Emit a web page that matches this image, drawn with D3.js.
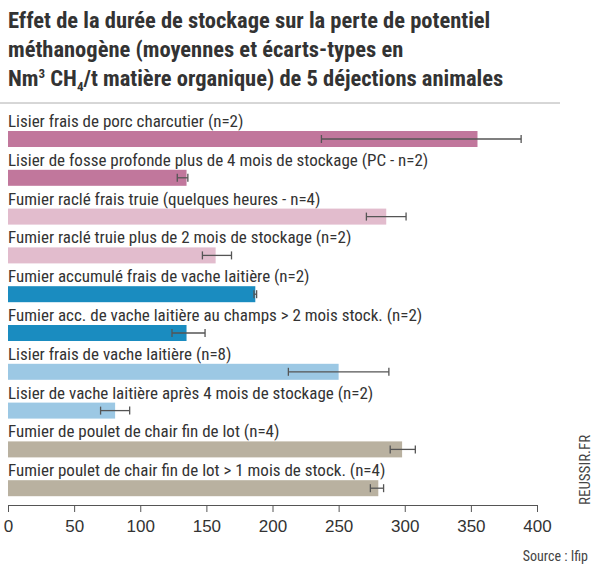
<!DOCTYPE html><html><head><meta charset="utf-8">
<script src="https://cdn.jsdelivr.net/npm/d3@7"></script>
<style>body{margin:0;background:#fff}text{font-family:"Liberation Sans Narrow","Roboto Condensed","Liberation Sans",sans-serif}</style></head><body>
<svg id="c" width="612" height="576"></svg>
<script>
const labels=["Lisier frais de porc charcutier (n=2)","Lisier de fosse profonde plus de 4 mois de stockage (PC - n=2)","Fumier raclé frais truie (quelques heures - n=4)","Fumier raclé truie plus de 2 mois de stockage (n=2)","Fumier accumulé frais de vache laitière (n=2)","Fumier acc. de vache laitière au champs > 2 mois stock. (n=2)","Lisier frais de vache laitière (n=8)","Lisier de vache laitière après 4 mois de stockage (n=2)","Fumier de poulet de chair fin de lot (n=4)","Fumier poulet de chair fin de lot > 1 mois de stock. (n=4)"];
const values=[355,135,286,157,187,135,250,81,298,280];
const errLow=[237,128,271,147,186,124,212,70,289,274];
const errHigh=[388,136,301,169,188,149,288,92,308,284];
const colors=["#c1779c","#c1779c","#e2bccd","#e2bccd","#1a8cc0","#1a8cc0","#9cc8e4","#9cc8e4","#b9b1a0","#b9b1a0"];
const ticks=[0,50,100,150,200,250,300,350,400];
const svg=d3.select("#c");
const x=d3.scaleLinear().domain([0,400]).range([8,537]);
const y=d3.scaleBand().domain(d3.range(10)).range([116,504]).paddingInner(0);
const t=svg.append("text").attr("x",8).attr("font-size",22.5).attr("font-weight","bold").attr("fill","#333");
t.append("tspan").attr("x",8).attr("y",28).text("Effet de la durée de stockage sur la perte de potentiel");
t.append("tspan").attr("x",8).attr("y",57).text("méthanogène (moyennes et écarts-types en");
const l3=t.append("tspan").attr("x",8).attr("y",86);
l3.append("tspan").text("Nm");l3.append("tspan").attr("dy",-8).attr("font-size",13).text("3");
l3.append("tspan").attr("dy",8).text(" CH");l3.append("tspan").attr("dy",5).attr("font-size",13).text("4");
l3.append("tspan").attr("dy",-5).text("/t matière organique) de 5 déjections animales");
svg.append("line").attr("x1",0).attr("x2",560).attr("y1",103).attr("y2",103).attr("stroke","#999").attr("stroke-width",0.8);
const g=svg.selectAll("g.r").data(values).join("g");
g.append("text").attr("x",8).attr("y",(d,i)=>y(i)+11).attr("font-size",17).attr("fill","#333").text((d,i)=>labels[i]);
g.append("rect").attr("x",x(0)).attr("y",(d,i)=>y(i)+15).attr("height",16).attr("width",d=>x(d)-x(0)).attr("fill",(d,i)=>colors[i]);
g.append("line").attr("x1",(d,i)=>x(errLow[i])).attr("x2",(d,i)=>x(errHigh[i])).attr("y1",(d,i)=>y(i)+23).attr("y2",(d,i)=>y(i)+23).attr("stroke","#555").attr("stroke-width",1.3);
g.append("line").attr("x1",(d,i)=>x(errLow[i])).attr("x2",(d,i)=>x(errLow[i])).attr("y1",(d,i)=>y(i)+19).attr("y2",(d,i)=>y(i)+27).attr("stroke","#555").attr("stroke-width",1.3);
g.append("line").attr("x1",(d,i)=>x(errHigh[i])).attr("x2",(d,i)=>x(errHigh[i])).attr("y1",(d,i)=>y(i)+19).attr("y2",(d,i)=>y(i)+27).attr("stroke","#555").attr("stroke-width",1.3);
const ax=svg.append("g").attr("transform","translate(0,505)").call(d3.axisBottom(x).tickValues(ticks).tickSize(7).tickSizeOuter(0));
ax.select(".domain").attr("stroke","#555");
ax.selectAll("line").attr("stroke","#555");
ax.selectAll("text").attr("font-size",17).attr("fill","#333").attr("dy","1em").style("font-family","'Liberation Sans Narrow',sans-serif");
svg.append("text").attr("transform","translate(590,505) rotate(-90)").attr("font-size",15).attr("fill","#444").text("REUSSIR.FR");
svg.append("text").attr("x",588).attr("y",561).attr("text-anchor","end").attr("font-size",14).attr("fill","#444").text("Source : Ifip");
</script></body></html>
